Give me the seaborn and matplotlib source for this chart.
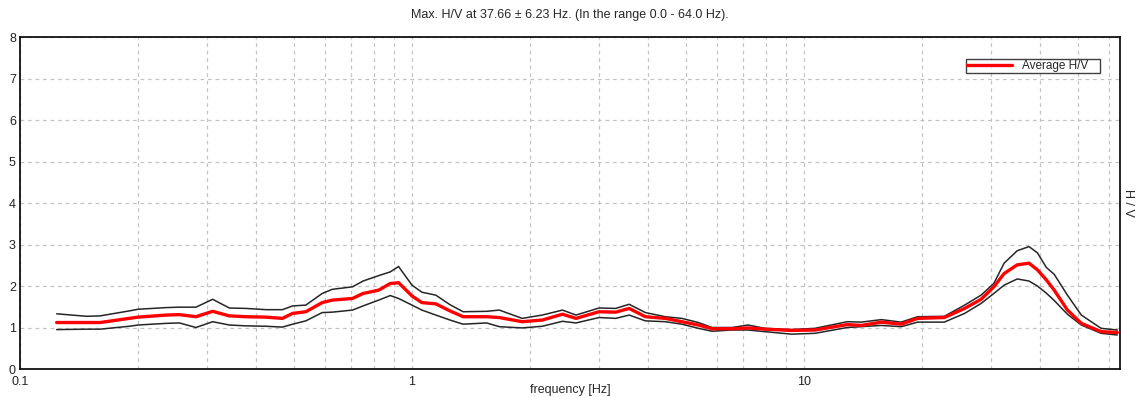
import numpy as np
import pandas as pd
import matplotlib
matplotlib.use("Agg")
import matplotlib.pyplot as plt
from matplotlib.ticker import LogLocator, NullFormatter, FixedLocator, FixedFormatter
import seaborn as sns

# Frequencies [Hz] of the H/V spectrum samples
freq = [0.124, 0.148, 0.16, 0.19, 0.2, 0.236, 0.255, 0.281, 0.31, 0.342,
        0.377, 0.424, 0.467, 0.496, 0.536, 0.59, 0.626, 0.705, 0.75, 0.822,
        0.88, 0.924, 1.0, 1.06, 1.15, 1.25, 1.35, 1.55, 1.67, 1.91,
        2.15, 2.42, 2.62, 3.0, 3.31, 3.58, 3.94, 4.43, 4.88, 5.38,
        5.83, 6.55, 7.2, 7.94, 9.3, 10.66, 12.9, 14.0, 15.75, 17.7,
        19.5, 22.8, 25.7, 28.3, 30.5, 32.4, 35.0, 37.5, 39.4, 41.5,
        43.5, 47.0, 51.0, 57.3, 63.0]

# Average H/V ratio
hv_mean = [1.12, 1.12, 1.12, 1.22, 1.25, 1.30, 1.31, 1.26, 1.39, 1.28,
           1.26, 1.25, 1.22, 1.34, 1.38, 1.60, 1.66, 1.70, 1.82, 1.90,
           2.06, 2.08, 1.76, 1.60, 1.57, 1.40, 1.26, 1.26, 1.24, 1.14,
           1.18, 1.32, 1.22, 1.38, 1.37, 1.46, 1.26, 1.22, 1.14, 1.06,
           0.97, 0.97, 0.99, 0.96, 0.93, 0.94, 1.07, 1.05, 1.13, 1.08,
           1.22, 1.24, 1.46, 1.68, 1.98, 2.30, 2.51, 2.55, 2.39, 2.15,
           1.90, 1.42, 1.10, 0.90, 0.88]

# Average + standard deviation
hv_upper = [1.33, 1.27, 1.28, 1.40, 1.44, 1.48, 1.49, 1.49, 1.68, 1.47,
            1.46, 1.43, 1.43, 1.52, 1.54, 1.82, 1.92, 1.98, 2.12, 2.25,
            2.34, 2.47, 2.02, 1.85, 1.78, 1.55, 1.38, 1.39, 1.42, 1.22,
            1.30, 1.42, 1.30, 1.47, 1.46, 1.56, 1.36, 1.26, 1.22, 1.12,
            1.00, 1.00, 1.06, 0.98, 0.95, 0.98, 1.14, 1.13, 1.19, 1.13,
            1.26, 1.27, 1.54, 1.78, 2.06, 2.55, 2.85, 2.95, 2.80, 2.45,
            2.28, 1.78, 1.30, 0.98, 0.94]

# Average - standard deviation
hv_lower = [0.95, 0.96, 0.96, 1.03, 1.06, 1.10, 1.11, 1.00, 1.14, 1.06,
            1.04, 1.03, 1.01, 1.08, 1.16, 1.36, 1.37, 1.42, 1.52, 1.66,
            1.77, 1.70, 1.54, 1.42, 1.30, 1.18, 1.08, 1.11, 1.02, 0.99,
            1.03, 1.15, 1.11, 1.24, 1.22, 1.30, 1.16, 1.14, 1.08, 0.98,
            0.91, 0.94, 0.94, 0.90, 0.84, 0.86, 1.00, 1.02, 1.05, 1.02,
            1.13, 1.13, 1.34, 1.58, 1.82, 2.02, 2.17, 2.12, 2.00, 1.83,
            1.65, 1.32, 1.06, 0.86, 0.82]

y_ticks = [0, 1, 2, 3, 4, 5, 6, 7, 8]
x_major = [0.1, 1, 10]
x_major_labels = ["0.1", "1", "10"]

title = "Max. H/V at 37.66 \u00b1 6.23 Hz. (In the range 0.0 - 64.0 Hz)."

sns.set_style("white")
plt.rcParams["font.family"] = ["Liberation Sans", "DejaVu Sans"]
plt.rcParams["font.size"] = 9

df = pd.DataFrame({"freq": freq, "mean": hv_mean,
                   "upper": hv_upper, "lower": hv_lower})

fig = plt.figure(figsize=(11.39, 3.97), dpi=100)
ax = fig.add_axes([0.0176, 0.0705, 0.9657, 0.8363])

sns.lineplot(data=df, x="freq", y="upper", ax=ax, color="#262626",
             linewidth=1.1, legend=False)
sns.lineplot(data=df, x="freq", y="lower", ax=ax, color="#262626",
             linewidth=1.1, legend=False)
sns.lineplot(data=df, x="freq", y="mean", ax=ax, color="#ff0000",
             linewidth=2.4, label="Average H/V")

ax.set_xscale("log")
ax.set_xlim(0.1, 64)
ax.set_ylim(0, 8)

ax.xaxis.set_major_locator(FixedLocator(x_major))
ax.xaxis.set_major_formatter(FixedFormatter(x_major_labels))
ax.xaxis.set_minor_locator(LogLocator(base=10, subs=np.arange(2, 10)))
ax.xaxis.set_minor_formatter(NullFormatter())
ax.set_yticks(y_ticks)

grid_kw = dict(color="#c4c4c4", linestyle=(0, (3, 3)), linewidth=0.9)
ax.grid(True, which="major", axis="both", **grid_kw)
ax.grid(True, which="minor", axis="x", **grid_kw)
ax.set_axisbelow(True)

ax.tick_params(axis="y", which="both", length=0, labelsize=9,
               colors="#222222", pad=3)
ax.tick_params(axis="x", which="both", length=0, labelsize=9,
               colors="#222222", pad=5)

for side in ["left", "bottom", "top", "right"]:
    ax.spines[side].set_color("#111111")
    ax.spines[side].set_linewidth(1.3)
    ax.spines[side].set_visible(True)

ax.set_xlabel("frequency [Hz]", fontsize=9, labelpad=-3)
ax.yaxis.set_label_position("right")
ax.set_ylabel("H / V", fontsize=9, rotation=270, labelpad=10)

ax.set_title(title, fontsize=9, pad=14)

# Legend box: red sample line with label, plain black frame
handles, labels = ax.get_legend_handles_labels()
leg = ax.legend(handles, [lab + "   " for lab in labels],
                loc="upper right", bbox_to_anchor=(0.9815, 0.934),
                frameon=True, fancybox=False, fontsize=8.5,
                handlelength=3.8, handletextpad=0.9, borderpad=0.1,
                borderaxespad=0)
leg.get_frame().set_edgecolor("#111111")
leg.get_frame().set_linewidth(1.0)

fig.savefig("out.png", dpi=100)
